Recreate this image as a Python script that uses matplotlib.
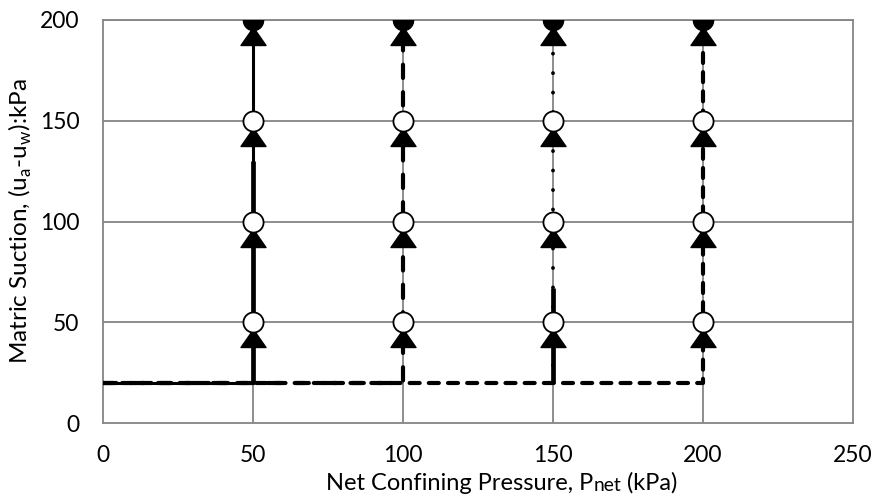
"""Stress paths: net confining pressure vs matric suction
"""

import numpy as np
import matplotlib as mpl  # noqa
from matplotlib import pyplot as plt

# ---- data
pressures = [50, 100, 150, 200]          # net confining pressure of each path (kPa)
initial_suction = 20                     # suction during isotropic loading (kPa)
final_suction = 200
suction_steps = [50, 100, 150]           # open circles
suction_final = [200]                    # filled circles
suction_loading = [42, 92, 142, 192]     # triangles
heavy_top = [130, None, 67, None]        # top of the heavy solid trace on each path

x_ticks = [0, 50, 100, 150, 200, 250]
y_ticks = [0, 50, 100, 150, 200]

# ---- style
plt.rcParams['font.family'] = ['Lato', 'DejaVu Sans']
plt.rcParams['mathtext.fontset'] = 'custom'
plt.rcParams['mathtext.rm'] = 'Lato'

GRID = '#858585'
FS_TICK = 16.5
FS_LABEL = 17

path_styles = [
    dict(ls='-', lw=2.2),
    dict(ls=(0, (3.2, 3.4)), lw=3.0),
    dict(ls=(0, (0.01, 5.0)), lw=2.8),
    dict(ls=(0, (2.4, 2.2)), lw=3.0),
]

tri = [(0, 0.72), (-1, -0.72), (1, -0.72), (0, 0.72)]

fig = plt.figure(figsize=(8.77, 5.0), dpi=100)
ax = fig.add_axes([103/877, 77/500, 750/877, 403/500])

# grid lines under everything
for yy in y_ticks[1:]:
    ax.axhline(yy, color=GRID, lw=1.3, zorder=1)
for xx in x_ticks[1:-1]:
    ax.axvline(xx, color=GRID, lw=1.3, zorder=1)

for pp, sty, top in zip(pressures, path_styles, heavy_top):
    xs = [0, pp, pp]
    ys = [initial_suction, initial_suction, final_suction]
    ax.plot(xs, ys, color='black', dash_capstyle='round', solid_capstyle='butt',
            zorder=3, **sty)
    if top is not None:
        ax.plot([pp, pp], [initial_suction, top], color='black', lw=3.4,
                solid_capstyle='butt', zorder=3)

for pp in pressures:
    ax.plot([pp]*len(suction_loading), suction_loading, ls='none', marker=tri,
            ms=18, mfc='black', mec='black', zorder=4)
    ax.plot([pp]*len(suction_steps), suction_steps, ls='none', marker='o',
            ms=14.5, mfc='white', mec='black', mew=1.3, zorder=5)
    ax.plot([pp]*len(suction_final), suction_final, ls='none', marker='o',
            ms=14.5, mfc='black', mec='black', zorder=5)

ax.set_xlim(0, 250)
ax.set_ylim(0, 200)
ax.set_xticks(x_ticks)
ax.set_yticks(y_ticks)
ax.tick_params(length=0, labelsize=FS_TICK)
ax.tick_params(axis='x', pad=16)
ax.tick_params(axis='y', pad=17)
for side in ['left', 'right', 'bottom', 'top']:
    ax.spines[side].set_color(GRID)
    ax.spines[side].set_linewidth(1.3)
    ax.spines[side].set_zorder(1)

ax.set_ylabel(r'Matric Suction, (u$_\mathregular{a}$-u$_\mathregular{w}$):kPa',
              fontsize=FS_LABEL + 0.5, labelpad=4)

# x label: "P" followed by a smaller "net" on the same baseline
t1 = fig.text(326/877, 10/500, 'Net Confining Pressure, P', fontsize=FS_LABEL,
              ha='left', va='baseline')
t2 = ax.annotate('net', xy=(1, 0), xycoords=t1, fontsize=FS_LABEL*0.82,
                 ha='left', va='bottom')
ax.annotate(' (kPa)', xy=(1, 0), xycoords=t2, fontsize=FS_LABEL,
            ha='left', va='bottom')

fig.savefig('out.png', dpi=100)
